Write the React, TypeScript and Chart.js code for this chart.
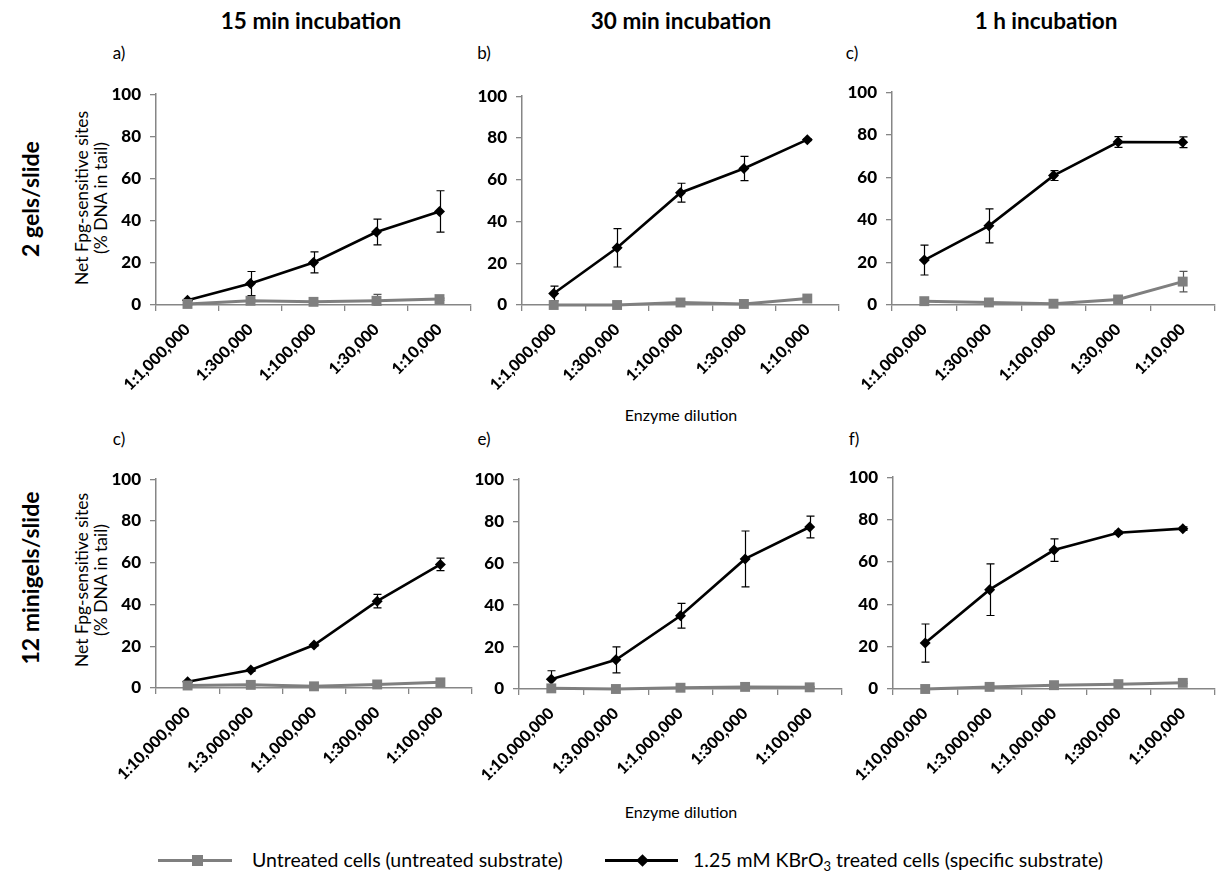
import React, { useEffect, useRef } from "react";
import { Chart, registerables } from "chart.js";

Chart.register(...registerables);

// ---------- data ----------
const dilutionsTwoGels = ["1:1,000,000", "1:300,000", "1:100,000", "1:30,000", "1:10,000"];
const dilutionsMinigels = ["1:10,000,000", "1:3,000,000", "1:1,000,000", "1:300,000", "1:100,000"];

const seriesUntreated = "Untreated cells (untreated substrate)";
const seriesTreated = "1.25 mM KBrO3 treated cells (specific substrate)";

// a) 2 gels/slide, 15 min
const treatedA = [2.2, 10.2, 20.2, 34.6, 44.4];
const treatedErrA = [0.4, 5.7, 5.0, 6.1, 9.8];
const untreatedA = [0.5, 2.0, 1.5, 2.0, 2.8];
const untreatedErrA = [0.3, 0.4, 0.4, 3.0, 0.5];
// b) 2 gels/slide, 30 min
const treatedB = [5.5, 27.4, 53.8, 65.4, 79.2];
const treatedErrB = [3.5, 9.2, 4.5, 5.8, 0.5];
const untreatedB = [0.0, 0.0, 1.2, 0.5, 3.1];
const untreatedErrB = [0.2, 0.2, 0.4, 0.3, 0.5];
// c) 2 gels/slide, 1 h
const treatedC = [21.1, 37.2, 60.8, 76.6, 76.5];
const treatedErrC = [7.0, 8.0, 2.3, 2.5, 2.5];
const untreatedC = [1.8, 1.2, 0.6, 2.6, 11.0];
const untreatedErrC = [0.4, 0.4, 0.3, 0.5, 4.8];
// d) 12 minigels/slide, 15 min
const treatedD = [3.0, 8.6, 20.6, 41.6, 59.2];
const treatedErrD = [0.4, 0.6, 0.6, 3.2, 3.0];
const untreatedD = [1.2, 1.5, 0.8, 1.7, 2.7];
const untreatedErrD = [0.3, 0.3, 0.3, 0.4, 0.4];
// e) 12 minigels/slide, 30 min
const treatedE = [4.7, 13.9, 34.9, 62.0, 77.2];
const treatedErrE = [4.0, 6.2, 5.9, 13.3, 5.2];
const untreatedE = [0.3, 0.0, 0.6, 1.0, 0.8];
const untreatedErrE = [0.2, 0.2, 0.3, 0.3, 0.3];
// f) 12 minigels/slide, 1 h
const treatedF = [21.7, 46.9, 65.6, 73.8, 75.7];
const treatedErrF = [9.0, 12.2, 5.3, 0.8, 0.8];
const untreatedF = [0.0, 1.0, 1.8, 2.3, 2.9];
const untreatedErrF = [0.2, 0.3, 0.3, 0.3, 0.4];

const yMin = 0;
const yMax = 100;
const yStep = 20;

// ---------- style ----------
const FONT = "Lato, 'Open Sans', 'Noto Sans', sans-serif";
const GRAY = "#7f7f7f";
const AXIS = "#868686";

const errorBarsPlugin = {
  id: "errorBars",
  beforeDatasetsDraw(chart: any) {
    const ctx = chart.ctx;
    const ys = chart.scales.y;
    chart.data.datasets.forEach((ds: any, i: number) => {
      const errs = ds.errors as number[] | undefined;
      if (!errs) return;
      const meta = chart.getDatasetMeta(i);
      ctx.save();
      ctx.strokeStyle = ds.errorColor || "#000";
      ctx.lineWidth = 1.2;
      meta.data.forEach((pt: any, j: number) => {
        const v = ds.data[j] as number;
        const e = errs[j];
        if (!e) return;
        const x = Math.round(pt.x) + 0.5;
        const top = ys.getPixelForValue(v + e);
        const bot = ys.getPixelForValue(Math.max(v - e, 0));
        ctx.beginPath();
        ctx.moveTo(x, bot);
        ctx.lineTo(x, top);
        ctx.moveTo(x - 4, top);
        ctx.lineTo(x + 4, top);
        ctx.moveTo(x - 4, bot);
        ctx.lineTo(x + 4, bot);
        ctx.stroke();
      });
      ctx.restore();
    });
  },
};

type Box = { l: number; t: number; r: number; b: number };

const YW = 62;
const PT = 14;
const XH = 115;
const PR = 1;

function Panel(props: {
  labels: string[];
  treated: number[];
  treatedErr: number[];
  untreated: number[];
  untreatedErr: number[];
  box: Box;
}) {
  const ref = useRef<HTMLCanvasElement>(null);
  const { box } = props;
  const width = box.r - box.l + YW + PR;
  const height = box.b - box.t + PT + XH;

  useEffect(() => {
    if (!ref.current) return;
    const chart = new Chart(ref.current, {
      type: "line",
      data: {
        labels: props.labels,
        datasets: [
          {
            label: seriesUntreated,
            data: props.untreated,
            borderColor: GRAY,
            backgroundColor: GRAY,
            borderWidth: 3,
            pointStyle: "rect",
            pointRadius: 7,
            pointBorderWidth: 0,
            pointBackgroundColor: GRAY,
            clip: false,
            order: 0,
            errors: props.untreatedErr,
            errorColor: "#555555",
          } as any,
          {
            label: seriesTreated,
            data: props.treated,
            borderColor: "#000",
            backgroundColor: "#000",
            borderWidth: 2.6,
            pointStyle: "rectRot",
            pointRadius: 5.5,
            pointBorderWidth: 0,
            pointBackgroundColor: "#000",
            clip: false,
            order: 1,
            errors: props.treatedErr,
            errorColor: "#000",
          } as any,
        ],
      },
      options: {
        animation: false,
        responsive: false,
        maintainAspectRatio: false,
        devicePixelRatio: 1,
        layout: { padding: { left: 0, top: PT, right: PR, bottom: 0 } },
        plugins: {
          legend: { display: false },
          tooltip: { enabled: false },
        },
        scales: {
          x: {
            type: "category",
            offset: true,
            grid: {
              display: true,
              drawOnChartArea: false,
              drawTicks: true,
              tickLength: 6,
              color: AXIS,
              lineWidth: 1.3,
              offset: true,
            },
            border: { display: true, color: AXIS, width: 1.5 },
            ticks: {
              color: "#000",
              font: { family: FONT, size: 16, weight: 900 },
              minRotation: 45,
              maxRotation: 45,
              autoSkip: false,
              padding: 9,
            },
            afterFit: (s: any) => {
              s.height = XH;
            },
          },
          y: {
            min: yMin,
            max: yMax,
            ticks: {
              stepSize: yStep,
              color: "#000",
              font: { family: FONT, size: 17, weight: 900 },
              padding: 9,
            },
            grid: {
              display: true,
              drawOnChartArea: false,
              drawTicks: true,
              tickLength: 6,
              color: AXIS,
              lineWidth: 1.3,
            },
            border: { display: true, color: AXIS, width: 1.5 },
            afterFit: (s: any) => {
              s.width = YW;
            },
          },
        },
      } as any,
      plugins: [errorBarsPlugin],
    });
    return () => chart.destroy();
  }, []);

  return (
    <canvas
      ref={ref}
      width={width}
      height={height}
      style={{
        position: "absolute",
        left: box.l - YW,
        top: box.t - PT,
        width,
        height,
      }}
    />
  );
}

const abs = (extra: React.CSSProperties): React.CSSProperties => ({
  position: "absolute",
  fontFamily: FONT,
  color: "#000",
  whiteSpace: "nowrap",
  lineHeight: 1,
  ...extra,
});

function Centered(props: { x: number; y: number; size: number; bold?: boolean; rotate?: boolean; lh?: number; children: React.ReactNode }) {
  return (
    <div
      style={abs({
        left: props.x,
        top: props.y,
        fontSize: props.size,
        fontWeight: props.bold ? 700 : 400,
        lineHeight: props.lh || 1,
        transform: `translate(-50%, -50%)${props.rotate ? " rotate(-90deg)" : ""}`,
        textAlign: "center",
      })}
    >
      {props.children}
    </div>
  );
}

export default function App() {
  return (
    <div
      style={{
        position: "absolute",
        left: 0,
        top: 0,
        width: 1223,
        height: 875,
        background: "#fff",
        overflow: "hidden",
      }}
    >
      {/* column titles */}
      <Centered x={311} y={21} size={22.5} bold>15 min incubation</Centered>
      <Centered x={681} y={21} size={22.5} bold>30 min incubation</Centered>
      <Centered x={1046} y={21} size={22.5} bold>1 h incubation</Centered>

      {/* row labels */}
      <Centered x={30} y={199} size={23} bold rotate>2 gels/slide</Centered>
      <Centered x={30} y={578} size={23} bold rotate>12 minigels/slide</Centered>

      {/* panel letters */}
      <Centered x={119} y={52} size={17}>a)</Centered>
      <Centered x={484} y={52} size={17}>b)</Centered>
      <Centered x={852} y={52} size={17}>c)</Centered>
      <Centered x={119} y={438} size={17}>c)</Centered>
      <Centered x={484} y={438} size={17}>e)</Centered>
      <Centered x={854} y={438} size={17}>f)</Centered>

      {/* y axis titles */}
      <Centered x={91} y={198} size={17.5} rotate lh={1.1}>
        Net Fpg-sensitive sites
        <br />
        (% DNA in tail)
      </Centered>
      <Centered x={91} y={580} size={17.5} rotate lh={1.1}>
        Net Fpg-sensitive sites
        <br />
        (% DNA in tail)
      </Centered>

      {/* x axis titles */}
      <Centered x={681} y={415} size={16}>Enzyme dilution</Centered>
      <Centered x={681} y={812} size={16}>Enzyme dilution</Centered>

      <Panel labels={dilutionsTwoGels} treated={treatedA} treatedErr={treatedErrA} untreated={untreatedA} untreatedErr={untreatedErrA} box={{ l: 156, t: 89, r: 477, b: 305 }} />
      <Panel labels={dilutionsTwoGels} treated={treatedB} treatedErr={treatedErrB} untreated={untreatedB} untreatedErr={untreatedErrB} box={{ l: 522, t: 91, r: 845, b: 305 }} />
      <Panel labels={dilutionsTwoGels} treated={treatedC} treatedErr={treatedErrC} untreated={untreatedC} untreatedErr={untreatedErrC} box={{ l: 892, t: 87, r: 1221, b: 305 }} />
      <Panel labels={dilutionsMinigels} treated={treatedD} treatedErr={treatedErrD} untreated={untreatedD} untreatedErr={untreatedErrD} box={{ l: 156, t: 474, r: 478, b: 688 }} />
      <Panel labels={dilutionsMinigels} treated={treatedE} treatedErr={treatedErrE} untreated={untreatedE} untreatedErr={untreatedErrE} box={{ l: 519, t: 474, r: 848, b: 689 }} />
      <Panel labels={dilutionsMinigels} treated={treatedF} treatedErr={treatedErrF} untreated={untreatedF} untreatedErr={untreatedErrF} box={{ l: 893, t: 472, r: 1221, b: 689 }} />

      {/* legend */}
      <div style={{ position: "absolute", left: 158, top: 859, width: 74, height: 3, background: GRAY }} />
      <div style={{ position: "absolute", left: 192, top: 855, width: 11, height: 11, background: GRAY }} />
      <div style={abs({ left: 252, top: 860, fontSize: 19.5, transform: "translateY(-50%)" })}>{seriesUntreated}</div>
      <div style={{ position: "absolute", left: 605, top: 859, width: 73, height: 3, background: "#000" }} />
      <div style={{ position: "absolute", left: 638, top: 856, width: 9, height: 9, background: "#000", transform: "rotate(45deg)" }} />
      <div style={abs({ left: 693, top: 860, fontSize: 19.5, transform: "translateY(-50%)" })}>
        1.25 mM KBrO<sub style={{ fontSize: 13, verticalAlign: "-0.3em", lineHeight: 0 }}>3</sub> treated cells (specific substrate)
      </div>
    </div>
  );
}
